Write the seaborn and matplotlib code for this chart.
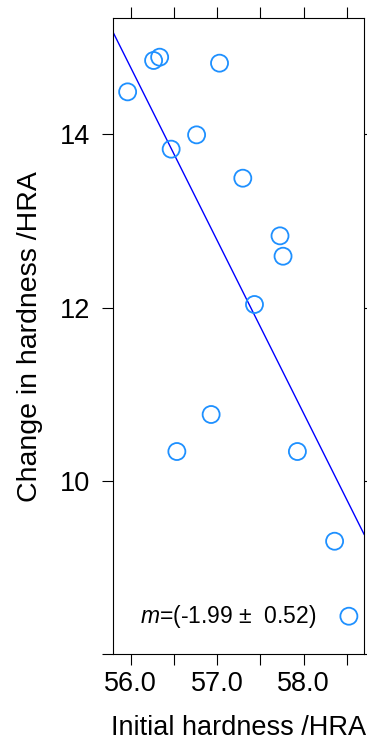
import numpy as np
import pandas as pd
import matplotlib
matplotlib.use("Agg")
import matplotlib.pyplot as plt
import seaborn as sns

# ---- data ----
initial_hardness = [55.965, 56.265, 56.335, 57.027, 56.762, 56.468, 57.296,
                    57.726, 57.761, 57.431, 56.930, 56.534, 57.927, 58.357, 58.522]
change_hardness = [14.488, 14.850, 14.888, 14.819, 13.992, 13.827, 13.492,
                   12.827, 12.592, 12.035, 10.766, 10.339, 10.339, 9.304, 8.439]
x_ticks = [56.0, 56.5, 57.0, 57.5, 58.0, 58.5]
x_tick_labels = ["56.0", "", "57.0", "", "58.0", ""]
y_ticks = [8, 10, 12, 14]
y_tick_labels = ["", "10", "12", "14"]
slope_text = "-1.99"
slope_err_text = "0.52"

df = pd.DataFrame({"x": initial_hardness, "y": change_hardness})

sns.set_style("ticks")
plt.rcParams["font.family"] = ["Liberation Sans", "DejaVu Sans"]
plt.rcParams["mathtext.fontset"] = "custom"
plt.rcParams["mathtext.rm"] = "Liberation Sans"
plt.rcParams["mathtext.it"] = "Liberation Sans:italic"
plt.rcParams["text.color"] = "black"
plt.rcParams["axes.labelcolor"] = "black"
plt.rcParams["xtick.color"] = "black"
plt.rcParams["ytick.color"] = "black"

fig = plt.figure(figsize=(3.67, 7.44), dpi=100)
ax = fig.add_axes([0.307, 0.1206, 0.9926 - 0.307, 0.9758 - 0.1206])

xlim = (55.792, 58.70)
ylim = (8.0, 15.34)
ax.set_xlim(*xlim)
ax.set_ylim(*ylim)

sns.regplot(data=df, x="x", y="y", ax=ax, scatter=False, ci=None,
            truncate=False, line_kws=dict(color="#0000FF", lw=1.0))
sns.scatterplot(data=df, x="x", y="y", ax=ax, marker="o", s=150,
                facecolors="none", edgecolor="#1E90FF", linewidth=1.3,
                zorder=3)

ax.set_xlim(*xlim)
ax.set_ylim(*ylim)

ax.set_xticks(x_ticks)
ax.set_xticklabels(x_tick_labels)
ax.set_yticks(y_ticks)
ax.set_yticklabels(y_tick_labels)
ax.tick_params(axis="both", which="major", direction="out", length=8,
               width=0.8, color="black", labelcolor="black", labelsize=19.5,
               top=True, right=True, labeltop=False, labelright=False)
ax.tick_params(axis="x", pad=4)
ax.tick_params(axis="y", pad=8)
for s in ax.spines.values():
    s.set_visible(True)
    s.set_color("black")
    s.set_linewidth(0.8)

ax.set_xlabel("Initial hardness /HRA", fontsize=19.5, labelpad=13,
              color="black")
ax.set_ylabel("Change in hardness /HRA", fontsize=20.5, labelpad=12,
              color="black")

ax.text(57.128, 8.36,
        "$m$=(" + slope_text + " \u00b1  " + slope_err_text + ")",
        ha="center", va="baseline", fontsize=16.5, color="black")

fig.savefig("out.png", dpi=100)
